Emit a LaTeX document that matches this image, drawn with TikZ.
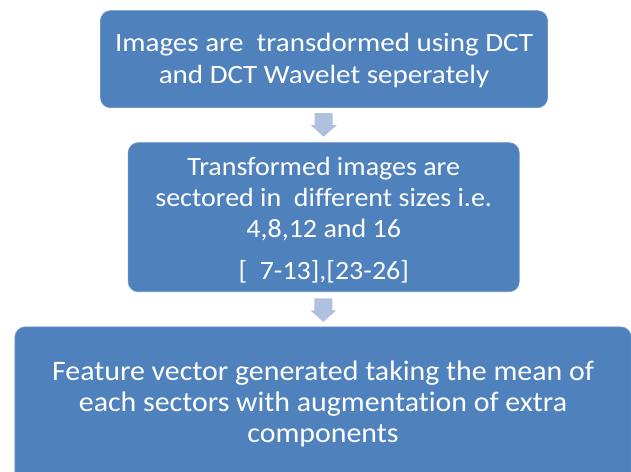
\documentclass[tikz,border=0pt]{standalone}
\usepackage{fontspec}
\setmainfont[FakeStretch=1.06,Ligatures=CommonOff]{Carlito}
\newfontfamily\wideface[FakeStretch=1.10,Ligatures=CommonOff]{Carlito}
\usetikzlibrary{calc}
\definecolor{boxblue}{HTML}{4F81BD}
\definecolor{arrowblue}{HTML}{AFC1DE}
\tikzset{
  stepbox/.style={rectangle, rounded corners=10bp, fill=boxblue, draw=boxblue!85!white, line width=0.6bp,
    inner sep=0pt},
  boxtext/.style={text=white, align=center, inner sep=0pt},
  downarrow/.style={fill=arrowblue}
}
\begin{document}
\begin{tikzpicture}[x=1bp,y=-1bp]
\useasboundingbox (0,0) rectangle (631,472);
\begin{scope}
\clip (0,0) rectangle (631,472);
\node[stepbox, minimum width=447bp, minimum height=97bp] (b1) at (324,59.2) {};
\node[stepbox, minimum width=391bp, minimum height=149bp] (b2) at (323.7,217.2) {};
\node[stepbox, minimum width=616bp, minimum height=160bp] (b3) at (323,407) {};
\end{scope}
\node[boxtext, font=\wideface\fontsize{26.5}{32}\selectfont] (t1) at ($(b1.center)+(0,1.5)$)
  {Images are\ \ transdormed using DCT\\and DCT Wavelet seperately};
\node[boxtext, font=\fontsize{26.5}{31}\selectfont] (t2) at ($(b2.center)+(0,3)$)
  {Transformed images are\\sectored in\ \ different sizes i.e.\\4,8,12 and 16\\[12bp][\ \ 7-13],[23-26]};
\node[boxtext, font=\fontsize{28.3}{31}\selectfont] (t3) at ($(b3.center)+(0,-3)$)
  {Feature vector generated taking the mean of\\each sectors with augmentation of extra\\components};
\coordinate (a1) at ($(b2.north)!0.5!(b2.north |- b1.south) + (0,-12)$);
\coordinate (a2) at ($(b2.south)!0.5!(b3.north) + (0,-11)$);
\foreach \a in {a1,a2}{
  \fill[downarrow] (\a) ++(-9,0) -- ++(18,0) -- ++(0,12) -- ++(4,0) -- ++(-13,11.5) -- ++(-13,-11.5) -- ++(4,0) -- cycle;
}
\end{tikzpicture}
\end{document}
